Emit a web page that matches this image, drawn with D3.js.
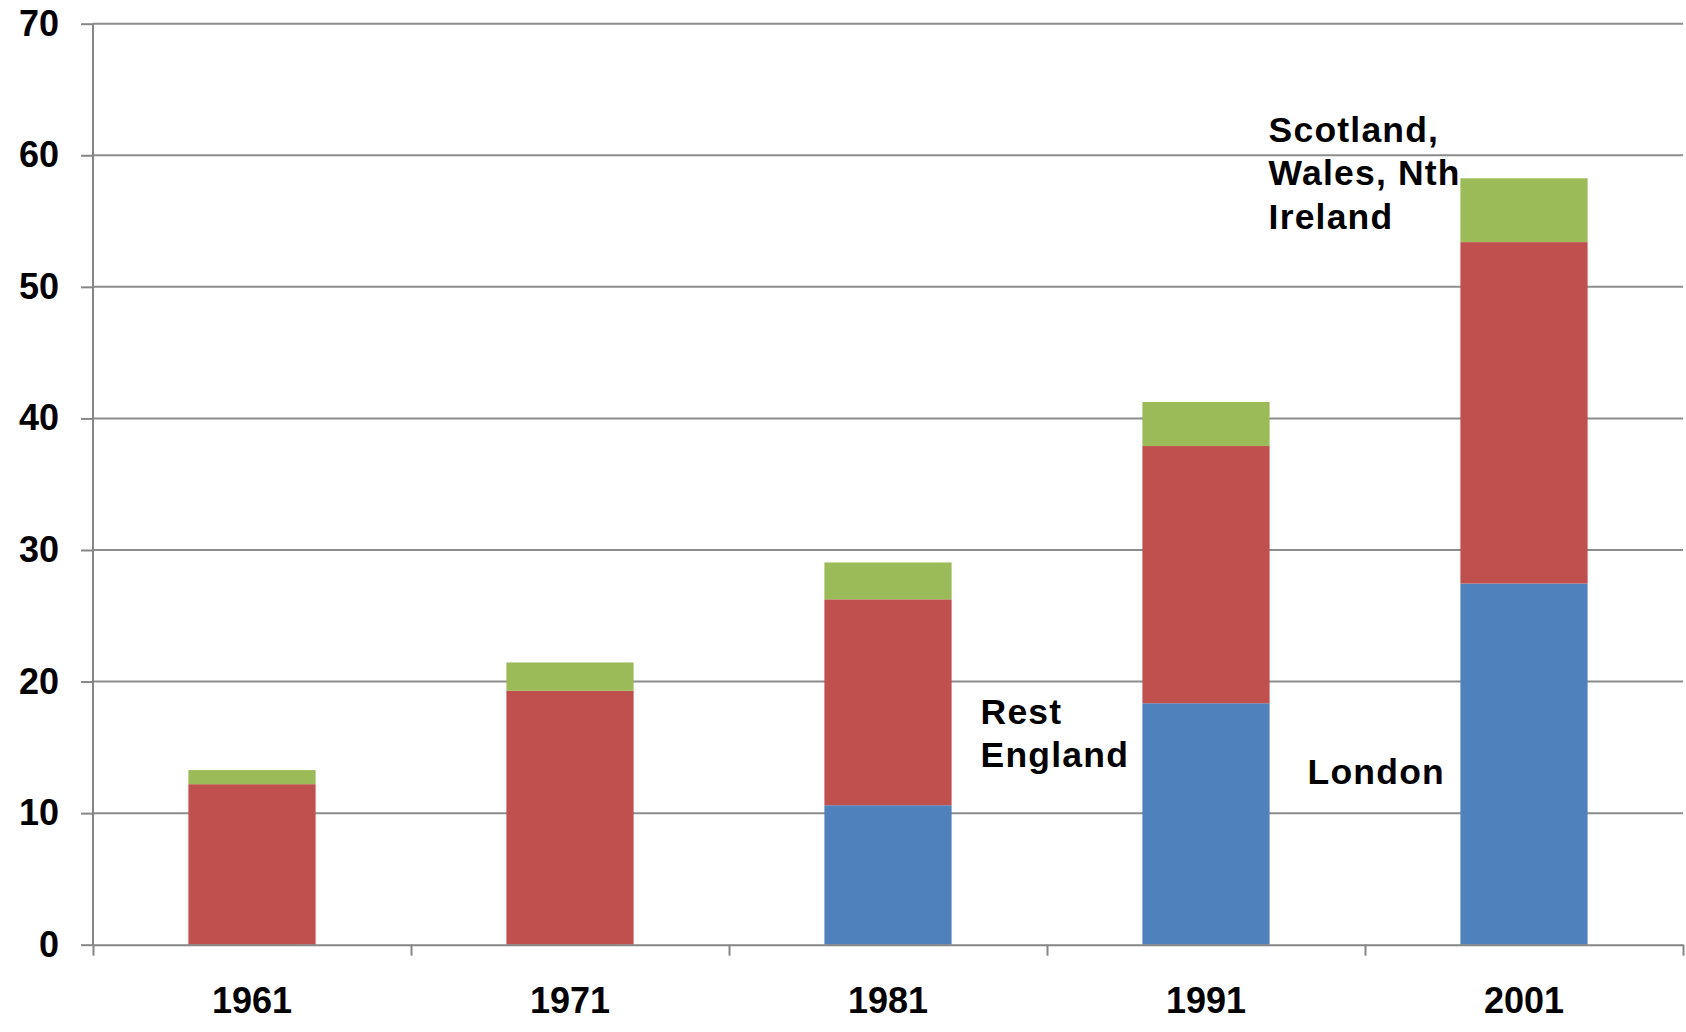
<!DOCTYPE html>
<html>
<head>
<meta charset="utf-8">
<script src="https://cdn.jsdelivr.net/npm/d3@7"></script>
<style>
  body { margin: 0; background: #fff; }
  svg text { font-family: "Liberation Sans", Arial, sans-serif; font-weight: bold; fill: #000; }
</style>
</head>
<body>
<div class="chart"></div>
<script>
var years = ["1961", "1971", "1981", "1991", "2001"];
var london = [0, 0, 10.6, 18.35, 27.45];
var restEngland = [12.2, 19.3, 15.65, 19.55, 25.95];
var scotWalesNI = [1.07, 2.15, 2.8, 3.35, 4.85];
var yTicks = [0, 10, 20, 30, 40, 50, 60, 70];

var width = 1686,
  height = 1032,
  plotLeft = 93,
  plotRight = 1683,
  plotTop = 23.7,
  plotBottom = 944.7;

var svg = d3.select(".chart").append("svg")
  .attr("width", width)
  .attr("height", height);

var rows = years.map(function(yr, i) {
  return { year: yr, london: london[i], rest: restEngland[i], other: scotWalesNI[i] };
});
var keys = ["london", "rest", "other"];
var colors = { london: "#4F81BD", rest: "#C0504D", other: "#9BBB59" };
var series = d3.stack().keys(keys)(rows);

var x = d3.scaleBand()
  .domain(years)
  .range([plotLeft, plotRight])
  .paddingInner(0.6)
  .paddingOuter(0.3);

var y = d3.scaleLinear()
  .domain([0, 70])
  .range([plotBottom, plotTop]);

// gridlines
svg.append("g")
  .selectAll("line")
  .data(yTicks.slice(1))
  .enter().append("line")
  .attr("x1", plotLeft)
  .attr("x2", plotRight)
  .attr("y1", function(d) { return y(d); })
  .attr("y2", function(d) { return y(d); })
  .attr("stroke", "#8c8c8c")
  .attr("stroke-width", 2);

// bars
svg.append("g")
  .selectAll("g")
  .data(series)
  .enter().append("g")
  .attr("fill", function(d) { return colors[d.key]; })
  .selectAll("rect")
  .data(function(d) { return d; })
  .enter().append("rect")
  .attr("x", function(d) { return x(d.data.year); })
  .attr("width", x.bandwidth())
  .attr("y", function(d) { return y(d[1]); })
  .attr("height", function(d) { return y(d[0]) - y(d[1]); });

// y axis
var yAxis = svg.append("g")
  .attr("transform", "translate(" + plotLeft + ",0)")
  .call(d3.axisLeft(y).tickValues(yTicks).tickSize(12).tickPadding(22));
yAxis.selectAll("line, path").attr("stroke", "#868686").attr("stroke-width", 2);
yAxis.select(".domain").attr("d", "M0," + y(0) + "V" + y(70));
yAxis.selectAll("text").style("font-size", "36px").attr("font-family", null);

// x axis: boundary ticks
var xb = d3.scaleLinear().domain([0, years.length]).range([plotLeft, plotRight]);
var xAxis = svg.append("g")
  .attr("transform", "translate(0," + plotBottom + ")")
  .call(d3.axisBottom(xb).tickValues(d3.range(years.length + 1)).tickFormat("").tickSize(11).tickSizeOuter(0));
xAxis.selectAll("line, path").attr("stroke", "#868686").attr("stroke-width", 2);

// x category labels
var xLab = svg.append("g")
  .attr("transform", "translate(0," + plotBottom + ")")
  .call(d3.axisBottom(x).tickSize(0));
xLab.select(".domain").remove();
xLab.selectAll("text")
  .style("font-size", "36px")
  .attr("font-family", null)
  .attr("dy", null)
  .attr("y", 68);

// series labels
function label(lines, xPos, yVal) {
  var t = svg.append("text")
    .attr("x", xPos)
    .attr("y", y(yVal))
    .style("font-size", "35.5px")
    .style("letter-spacing", "1.2px");
  lines.forEach(function(s, i) {
    t.append("tspan").attr("x", xPos).attr("dy", i === 0 ? 0 : 43.3).text(s);
  });
}
label(["Rest", "England"], x("1981") + x.bandwidth() + 29, 16.8);
label(["London"], x("1991") + x.bandwidth() + 38, 12.25);
label(["Scotland,", "Wales, Nth", "Ireland"], x("1991") + x.bandwidth() - 1, 61.0);
</script>
</body>
</html>
